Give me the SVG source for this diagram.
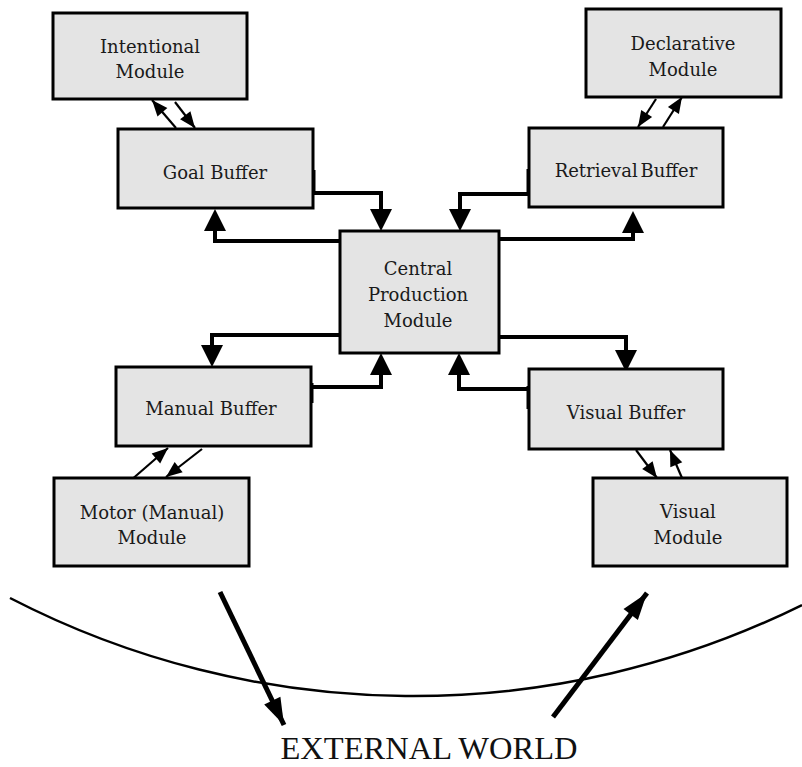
<svg xmlns="http://www.w3.org/2000/svg" width="802" height="767" viewBox="0 0 802 767">
  <style>
    .box rect { fill: #e4e4e4; stroke: #000; stroke-width: 3; }
    .box text { font-family: "DejaVu Serif", "Liberation Serif", serif; font-size: 18px; fill: #1a1a1a; text-anchor: middle; }
    .wire { fill: none; stroke: #000; stroke-width: 4; marker-end: url(#head); }
    .link { fill: none; stroke: #000; stroke-width: 2.2; marker-end: url(#small); }
    .world { fill: none; stroke: #000; stroke-width: 5; marker-end: url(#large); }
    .tick { stroke: #000; stroke-width: 3; }
    .horizon { fill: none; stroke: #000; stroke-width: 2.5; }
    .caption { font-family: "Liberation Serif", "Times New Roman", serif; font-size: 32.5px; fill: #111; text-anchor: middle; }
  </style>
  <defs>
    <!-- base of the triangle sits at the end of the path -->
    <marker id="head" markerWidth="24" markerHeight="24" refX="0" refY="11" orient="auto" markerUnits="userSpaceOnUse" overflow="visible">
      <path d="M0,0 L22,11 L0,22 z" fill="#000"/>
    </marker>
    <!-- tip of the triangle sits at the end of the path -->
    <marker id="small" markerWidth="18" markerHeight="14" refX="16" refY="6.5" orient="auto" markerUnits="userSpaceOnUse" overflow="visible">
      <path d="M0,0 L16,6.5 L0,13 z" fill="#000"/>
    </marker>
    <marker id="large" markerWidth="30" markerHeight="20" refX="27" refY="9" orient="auto" markerUnits="userSpaceOnUse" overflow="visible">
      <path d="M0,0 L27,9 L0,18 z" fill="#000"/>
    </marker>
  </defs>

  <rect width="802" height="767" fill="#fff"/>

  <!-- boundary to the outside world -->
  <path class="horizon" d="M 10 598 A 877 877 0 0 0 802 605"/>

  <g id="connectors">
    <!-- buffers <-> central production module -->
    <path class="wire" d="M 313 193 H 381 V 209"/>
    <path class="wire" d="M 340 241 H 215 V 231"/>
    <path class="wire" d="M 529 194 H 460 V 209"/>
    <path class="wire" d="M 499 239 H 633 V 233"/>
    <path class="wire" d="M 340 335 H 212 V 345"/>
    <path class="wire" d="M 311 387 H 381 V 375"/>
    <path class="wire" d="M 529 389 H 459 V 375"/>
    <path class="wire" d="M 499 337 H 626 V 350"/>
    <!-- heavier edge where the wires meet the boxes -->
    <line class="tick" x1="314" y1="170" x2="314" y2="195"/>
    <line class="tick" x1="528" y1="169" x2="528" y2="196"/>
    <line class="tick" x1="341" y1="231" x2="341" y2="261"/>
    <line class="tick" x1="498" y1="231" x2="498" y2="261"/>
    <line class="tick" x1="341" y1="333" x2="341" y2="353"/>
    <line class="tick" x1="498" y1="323" x2="498" y2="353"/>
    <line class="tick" x1="312" y1="383" x2="312" y2="403"/>
    <line class="tick" x1="528" y1="386" x2="528" y2="409"/>

    <!-- buffers <-> modules -->
    <path class="link" d="M 176 128 L 152 100"/>
    <path class="link" d="M 175 102 L 195 128"/>
    <path class="link" d="M 656 99 L 638 127"/>
    <path class="link" d="M 663 127 L 682 97"/>
    <path class="link" d="M 130 481 L 168 448"/>
    <path class="link" d="M 202 449 L 166 477"/>
    <path class="link" d="M 636 450 L 657 478"/>
    <path class="link" d="M 682 478 L 670 450"/>

    <!-- to and from the external world -->
    <path class="world" d="M 220 592 L 284 725"/>
    <path class="world" d="M 553 717 L 647 593"/>
  </g>

  <g id="intentional-module" class="box">
    <rect x="53" y="13" width="194" height="86"/>
    <text x="150" y="53">Intentional</text>
    <text x="150" y="78">Module</text>
  </g>
  <g id="declarative-module" class="box">
    <rect x="586" y="9" width="195" height="88"/>
    <text x="683" y="50">Declarative</text>
    <text x="683" y="76">Module</text>
  </g>
  <g id="goal-buffer" class="box">
    <rect x="118" y="129" width="195" height="79"/>
    <text x="215" y="179">Goal Buffer</text>
  </g>
  <g id="retrieval-buffer" class="box">
    <rect x="529" y="128" width="194" height="79"/>
    <text x="626" y="177" word-spacing="-3">Retrieval Buffer</text>
  </g>
  <g id="central-production-module" class="box">
    <rect x="340" y="231" width="159" height="122"/>
    <text x="418" y="275">Central</text>
    <text x="418" y="301">Production</text>
    <text x="418" y="327">Module</text>
  </g>
  <g id="manual-buffer" class="box">
    <rect x="116" y="367" width="195" height="79"/>
    <text x="211" y="415">Manual Buffer</text>
  </g>
  <g id="visual-buffer" class="box">
    <rect x="529" y="369" width="194" height="80"/>
    <text x="626" y="419">Visual Buffer</text>
  </g>
  <g id="motor-module" class="box">
    <rect x="54" y="478" width="195" height="88"/>
    <text x="152" y="519">Motor (Manual)</text>
    <text x="152" y="544">Module</text>
  </g>
  <g id="visual-module" class="box">
    <rect x="593" y="478" width="194" height="88"/>
    <text x="688" y="518">Visual</text>
    <text x="688" y="544">Module</text>
  </g>

  <text class="caption" x="429" y="759">EXTERNAL WORLD</text>
</svg>
